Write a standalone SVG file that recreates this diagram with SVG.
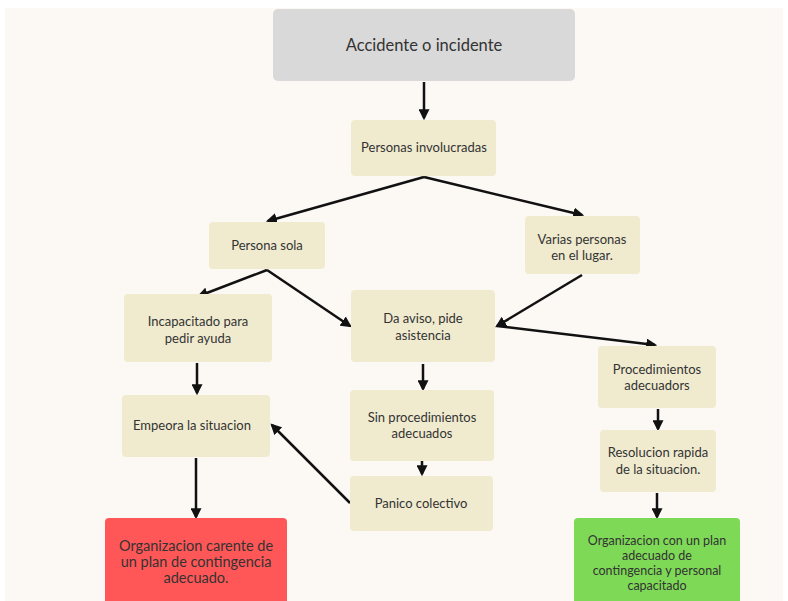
<svg xmlns="http://www.w3.org/2000/svg" width="788" height="601" viewBox="0 0 788 601">
<defs>
<marker id="ah" viewBox="0 0 10 10" refX="8" refY="5" markerWidth="4.4" markerHeight="4.4" orient="auto" markerUnits="strokeWidth">
<path d="M0,0 L10,5 L0,10 z" fill="#111"/>
</marker>
<style>
.n{fill:#f0ebcf}
.t{font-family:"Lato","Liberation Sans",sans-serif;font-size:13px;fill:#333;text-anchor:middle}
.c{stroke:#111;stroke-width:2.5;fill:none;marker-end:url(#ah)}
</style>
</defs>
<rect x="0" y="0" width="788" height="601" fill="#ffffff"/>
<rect x="5" y="8" width="778" height="593" fill="#fcf8f4"/>
<g id="connectors">
<line class="c" x1="424" y1="82" x2="424" y2="118"/>
<line class="c" x1="424" y1="177" x2="268" y2="221"/>
<line class="c" x1="424" y1="177" x2="582" y2="215"/>
<line class="c" x1="267" y1="270" x2="199" y2="296"/>
<line class="c" x1="267" y1="270" x2="350" y2="326"/>
<line class="c" x1="582" y1="275" x2="497" y2="326"/>
<line class="c" x1="497" y1="326" x2="655" y2="345"/>
<line class="c" x1="197" y1="363" x2="197" y2="393"/>
<line class="c" x1="423" y1="364" x2="423" y2="389"/>
<line class="c" x1="658" y1="409" x2="658" y2="429"/>
<line class="c" x1="422" y1="461" x2="422" y2="474"/>
<line class="c" x1="350" y1="503" x2="272" y2="425"/>
<line class="c" x1="196" y1="458" x2="196" y2="517"/>
<line class="c" x1="657" y1="493" x2="657" y2="517"/>
</g>
<g id="accidente">
<rect x="273" y="9" width="302" height="72" rx="5" fill="#d9d9d9"/>
<text class="t" x="424" y="51" style="font-size:16.5px">Accidente o incidente</text>
</g>
<g id="personas">
<rect class="n" x="351" y="120" width="145" height="56" rx="4"/>
<text class="t" x="424" y="152">Personas involucradas</text>
</g>
<g id="sola">
<rect class="n" x="209" y="222" width="116" height="47" rx="4"/>
<text class="t" x="267" y="250">Persona sola</text>
</g>
<g id="varias">
<rect class="n" x="525" y="216" width="115" height="58" rx="4"/>
<text class="t" x="582" y="244">Varias personas</text>
<text class="t" x="582" y="260">en el lugar.</text>
</g>
<g id="incapacitado">
<rect class="n" x="124" y="294" width="148" height="68" rx="4"/>
<text class="t" x="198" y="326">Incapacitado para</text>
<text class="t" x="198" y="343">pedir ayuda</text>
</g>
<g id="aviso">
<rect class="n" x="351" y="290" width="144" height="72" rx="4"/>
<text class="t" x="423" y="323">Da aviso, pide</text>
<text class="t" x="423" y="340">asistencia</text>
</g>
<g id="procedimientos">
<rect class="n" x="598" y="346" width="118" height="62" rx="4"/>
<text class="t" x="657" y="374">Procedimientos</text>
<text class="t" x="657" y="390">adecuadors</text>
</g>
<g id="empeora">
<rect class="n" x="122" y="395" width="148" height="62" rx="4"/>
<text class="t" x="192" y="430">Empeora la situacion</text>
</g>
<g id="sinproc">
<rect class="n" x="350" y="390" width="144" height="71" rx="4"/>
<text class="t" x="422" y="422">Sin procedimientos</text>
<text class="t" x="422" y="438">adecuados</text>
</g>
<g id="resolucion">
<rect class="n" x="600" y="430" width="116" height="62" rx="4"/>
<text class="t" x="658" y="457">Resolucion rapida</text>
<text class="t" x="658" y="474">de la situacion.</text>
</g>
<g id="panico">
<rect class="n" x="350" y="476" width="143" height="55" rx="4"/>
<text class="t" x="421" y="508">Panico colectivo</text>
</g>
<g id="carente">
<rect x="105" y="518" width="182" height="90" rx="4" fill="#ff5757"/>
<text class="t" x="196" y="551" style="font-size:14.5px">Organizacion carente de</text>
<text class="t" x="196" y="567" style="font-size:14.5px">un plan de contingencia</text>
<text class="t" x="196" y="583" style="font-size:14.5px">adecuado.</text>
</g>
<g id="conplan">
<rect x="574" y="518" width="166" height="90" rx="4" fill="#7ed957"/>
<text class="t" x="657" y="545" style="font-size:12.5px">Organizacion con un plan</text>
<text class="t" x="657" y="560" style="font-size:12.5px">adecuado de</text>
<text class="t" x="657" y="575" style="font-size:12.5px">contingencia y personal</text>
<text class="t" x="657" y="590" style="font-size:12.5px">capacitado</text>
</g>
</svg>
